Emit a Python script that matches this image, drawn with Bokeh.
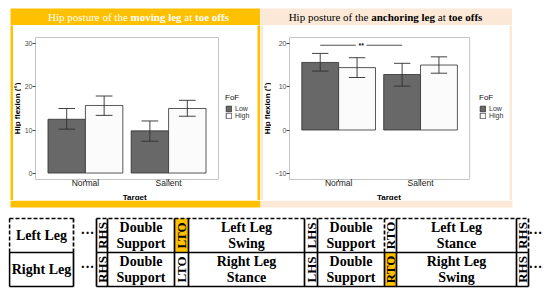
import numpy as np
from bokeh.plotting import figure
from bokeh.models import Range1d, FixedTicker, Legend, LegendItem, Spacer
from bokeh.layouts import row, column
from bokeh.embed import file_html
from bokeh.resources import INLINE
from bokeh.core.properties import value

# ---------------- data ----------------
targets = ["Normal", "Salient"]
fof_levels = ["Low", "High"]

moving_low_mean = [12.5, 9.8]
moving_low_lower = [10.2, 7.4]
moving_low_upper = [15.0, 12.1]
moving_high_mean = [15.7, 15.0]
moving_high_lower = [13.4, 13.2]
moving_high_upper = [17.9, 16.9]
moving_yticks = [0, 10, 20, 30]

anchor_low_mean = [15.7, 12.9]
anchor_low_lower = [13.7, 10.2]
anchor_low_upper = [17.8, 15.5]
anchor_high_mean = [14.5, 15.1]
anchor_high_lower = [12.2, 13.2]
anchor_high_upper = [16.8, 17.0]
anchor_yticks = [-10, 0, 10, 20]

anchor_sig_from = "Normal"
anchor_sig_to = "Salient"
anchor_sig_y = 19.7
anchor_sig_label = "**"

moving_title = [("Hip posture of the ", False), ("moving leg", True), (" at ", False), ("toe offs", True)]
anchor_title = [("Hip posture of the ", False), ("anchoring leg", True), (" at ", False), ("toe offs", True)]

x_title = "Target"
y_title = "Hip flexion (°)"
legend_title = "FoF"

leg_names = ["Left Leg", "Right Leg"]
left_row_cells = ["RHS", "Double|Support", "LTO", "Left Leg|Swing", "LHS",
                  "Double|Support", "RTO", "Left Leg|Stance", "RHS"]
right_row_cells = ["RHS", "Double|Support", "LTO", "Right Leg|Stance", "LHS",
                   "Double|Support", "RTO", "Right Leg|Swing", "RHS"]
left_row_highlight = "LTO"
right_row_highlight = "RTO"

# ---------------- style / layout ----------------
ORANGE = "#FFC000"
PEACH = "#FCE8D6"
SANS = "Liberation Sans"
SERIF = "Liberation Serif"
BORDER_GRAY = "#C4C4C4"
LOW_FILL = "#686868"
HIGH_FILL = "#FBFBFB"
BAR_LINE = "#2E2E2E"
HALF_DODGE = 0.225
BAR_W = 0.45
CAP = 0.1
MID_H = 175      # height of the white area under the title bar
PLOT_H = 165     # plot figure height (rest is the x-title strip)
YLAB_W = 8       # y-title strip width

REG_W = {' ': .25, 'H': .722, 'i': .278, 'p': .5, 'o': .5, 's': .389, 't': .278,
         'u': .5, 'r': .333, 'e': .444, 'f': .333, 'h': .5, 'a': .444}
BOLD_W = {' ': .25, 'm': .833, 'o': .5, 'v': .5, 'i': .278, 'n': .556, 'g': .5,
          'l': .278, 'e': .444, 't': .333, 'f': .333, 's': .389, 'a': .5,
          'c': .444, 'h': .556, 'r': .444}


def serif_width(text, bold):
    table = BOLD_W if bold else REG_W
    return sum(table.get(c, 0.5) for c in text)


def plain(f, color):
    f.xaxis.visible = False
    f.yaxis.visible = False
    f.grid.visible = False
    f.background_fill_color = color
    f.border_fill_color = color
    f.outline_line_color = None
    return f


def canvas(w, h, color):
    f = figure(width=w, height=h, x_range=(0, w), y_range=(0, h), min_border=0,
               output_backend="svg", toolbar_location=None)
    return plain(f, color)


def title_fig(w, segs, bg, fg, shift=0):
    h = 17
    f = canvas(w, h, bg)
    fs = 11
    total = sum(serif_width(t, b) for t, b in segs) * fs
    x = (w - total) / 2 + shift
    for t, b in segs:
        lead = t[:len(t) - len(t.lstrip())]
        core = t.strip()
        xs = x + serif_width(lead, b) * fs
        f.text(x=[xs], y=[h / 2], text=[core], text_font=value(SERIF),
               text_font_size=f"{fs}px", text_font_style="bold" if b else "normal",
               text_color=fg, text_align="left", text_baseline="middle")
        x += serif_width(t, b) * fs
    return f


def bar_fig(W, left_border, panel_right, low, high, yticks, sig=None):
    H = PLOT_H
    top_border = 11
    bottom_border = H - top_border - 144
    n = len(targets)
    lo, hi = min(yticks), max(yticks)
    pad = 0.05 * (hi - lo)
    frame_h = H - top_border - bottom_border
    ky = (frame_h - 1) / (hi - lo + 2 * pad)
    kx = (panel_right - left_border) / (n + 0.2)
    x0 = 0.4
    x1 = n + 0.6
    x_end = x1 + (W - panel_right) / kx
    p = figure(width=W, height=H, output_backend="svg", toolbar_location=None,
               x_range=Range1d(x0, x_end), y_range=Range1d(lo - pad, hi + pad + 1 / ky),
               min_border_left=left_border, min_border_right=0,
               min_border_top=top_border, min_border_bottom=bottom_border)
    p.grid.visible = False
    p.outline_line_color = None
    p.background_fill_color = "white"
    p.border_fill_color = "white"

    pos = np.arange(1, n + 1, dtype=float)
    p.xaxis.ticker = FixedTicker(ticks=list(pos))
    p.xaxis.major_label_overrides = {float(i + 1): t for i, t in enumerate(targets)}
    p.yaxis.ticker = FixedTicker(ticks=yticks)
    p.xaxis.bounds = (x0, x1)
    p.yaxis.bounds = (lo - pad, hi + pad)
    for ax in (p.xaxis[0], p.yaxis[0]):
        ax.axis_line_color = BORDER_GRAY
        ax.axis_line_width = 1
        ax.major_tick_line_color = "#444444"
        ax.major_tick_out = 3
        ax.major_tick_in = 0
        ax.minor_tick_line_color = None
        ax.major_label_text_font = SANS
    p.xaxis.major_tick_out = 2
    p.xaxis.major_label_text_font_size = "8.5px"
    p.xaxis.major_label_text_color = "#1A1A1A"
    p.xaxis.major_label_standoff = -4
    p.yaxis.major_label_text_font_size = "7px"
    p.yaxis.major_label_text_color = "#4D4D4D"
    p.yaxis.major_label_standoff = 0

    # panel top and right border
    p.segment(x0=[x0, x1], y0=[hi + pad, lo - pad], x1=[x1, x1], y1=[hi + pad, hi + pad],
              line_color=BORDER_GRAY, line_width=1)

    rends = []
    for (mean, lower, upper), off, fill in ((low, -HALF_DODGE, LOW_FILL), (high, HALF_DODGE, HIGH_FILL)):
        xs = pos + off
        r = p.vbar(x=xs, top=mean, bottom=0, width=BAR_W, fill_color=fill,
                   line_color=BAR_LINE, line_width=0.8)
        rends.append(r)
        p.segment(x0=xs, y0=lower, x1=xs, y1=upper, line_color=BAR_LINE, line_width=0.9)
        p.segment(x0=xs - CAP, y0=upper, x1=xs + CAP, y1=upper, line_color=BAR_LINE, line_width=0.9)
        p.segment(x0=xs - CAP, y0=lower, x1=xs + CAP, y1=lower, line_color=BAR_LINE, line_width=0.9)

    if sig is not None:
        a, b, yv, lab = sig
        xa = targets.index(a) + 1 - HALF_DODGE
        xb = targets.index(b) + 1 - HALF_DODGE
        mid = (xa + xb) / 2
        gap = 0.065
        p.segment(x0=[xa, mid + gap], y0=[yv, yv], x1=[mid - gap, xb], y1=[yv, yv],
                  line_color="#222222", line_width=0.8)
        p.text(x=[mid], y=[yv], text=[lab], text_font=value(SANS), text_font_size="7px",
               text_font_style="bold", text_align="center", text_baseline="middle",
               text_color="#222222")

    legend = Legend(items=[LegendItem(label=fof_levels[0], renderers=[rends[0]]),
                           LegendItem(label=fof_levels[1], renderers=[rends[1]])],
                    title=legend_title, location=(190, 60),
                    glyph_width=7, glyph_height=7, label_height=7, spacing=0,
                    padding=0, margin=0, label_standoff=3, title_standoff=3,
                    border_line_color=None, background_fill_alpha=0,
                    label_text_font=SANS, label_text_font_size="7px",
                    label_text_color="#333333",
                    title_text_font=SANS, title_text_font_size="8px",
                    title_text_font_style="normal", title_text_color="#111111")
    p.add_layout(legend)
    return p


def panel(w, segs, frame_color, title_color, low, high, yticks, left_border, panel_right,
          sig=None, shift=0):
    t = title_fig(w, segs, frame_color, title_color, shift)
    pw = w - 6 - YLAB_W
    pf = bar_fig(pw, left_border, panel_right, low, high, yticks, sig)
    # y title strip
    yl = canvas(YLAB_W, MID_H, "white")
    panel_mid_y = MID_H - (11 + 72)
    yl.text(x=[YLAB_W / 2], y=[panel_mid_y], text=[y_title], angle=np.pi / 2,
            text_font=value(SANS), text_font_size="8px", text_font_style="bold",
            text_align="center", text_baseline="middle", text_color="black")
    # x title strip
    xh = MID_H - PLOT_H
    xl = canvas(pw, xh, "white")
    xl.text(x=[(left_border + panel_right) / 2], y=[xh / 2 + 0.5], text=[x_title],
            text_font=value(SANS), text_font_size="8px", text_font_style="bold",
            text_align="center", text_baseline="middle", text_color="black")
    mid = row(canvas(3, MID_H, frame_color), yl, column(pf, xl), canvas(3, MID_H, frame_color))
    return column(t, mid)


left_panel = panel(250, moving_title, ORANGE, "white",
                   (moving_low_mean, moving_low_lower, moving_low_upper),
                   (moving_high_mean, moving_high_lower, moving_high_upper),
                   moving_yticks, left_border=14, panel_right=197, shift=3)
right_panel = panel(252, anchor_title, PEACH, "black",
                    (anchor_low_mean, anchor_low_lower, anchor_low_upper),
                    (anchor_high_mean, anchor_high_lower, anchor_high_upper),
                    anchor_yticks, left_border=17, panel_right=198, shift=-1,
                    sig=(anchor_sig_from, anchor_sig_to, anchor_sig_y, anchor_sig_label))

# ---------------- gait diagram (incl. bottom bands of the panels) ----------------
D_W, D_H, D_TOP, D_LEFT = 534, 90, 200, 8
BAND = [(10, 260, ORANGE), (260, 512, PEACH)]
BAND_Y = (200, 207)
ROW_Y = [218, 252, 286]
NAME_X = (9, 73)
CELL_EDGES = [96, 107, 174, 188, 304, 317, 384, 396, 516, 528]
DOTS_X = [87, 535]
TOP_DASHED_EDGES = [384, 528]
LW = 1.7


def Y(py):
    return D_TOP + D_H - py


d = figure(width=D_W, height=D_H, x_range=(D_LEFT, D_LEFT + D_W), y_range=(0, D_H),
           min_border=0, output_backend="svg", toolbar_location=None)
plain(d, "white")

d.quad(left=[b[0] for b in BAND], right=[b[1] for b in BAND],
       top=[Y(BAND_Y[0])] * 2, bottom=[Y(BAND_Y[1])] * 2,
       fill_color=[b[2] for b in BAND], line_color=None)

solid = [[], [], [], []]
dashed = [[], [], [], []]


def seg(lst, xa, ya, xb, yb):
    lst[0].append(xa); lst[1].append(Y(ya)); lst[2].append(xb); lst[3].append(Y(yb))


for r, (cells, hl) in enumerate(((left_row_cells, left_row_highlight),
                                 (right_row_cells, right_row_highlight))):
    for i, c in enumerate(cells):
        if c == hl:
            d.quad(left=[CELL_EDGES[i]], right=[CELL_EDGES[i + 1]],
                   top=[Y(ROW_Y[r])], bottom=[Y(ROW_Y[r + 1])],
                   fill_color=ORANGE, line_color=None)

seg(dashed, NAME_X[0], ROW_Y[0], NAME_X[1], ROW_Y[0])
seg(dashed, NAME_X[0], ROW_Y[0], NAME_X[0], ROW_Y[1])
seg(dashed, NAME_X[1], ROW_Y[0], NAME_X[1], ROW_Y[1])
seg(solid, NAME_X[0], ROW_Y[1], NAME_X[1], ROW_Y[1])
seg(solid, NAME_X[0], ROW_Y[2], NAME_X[1], ROW_Y[2])
seg(solid, NAME_X[0], ROW_Y[1], NAME_X[0], ROW_Y[2])
seg(solid, NAME_X[1], ROW_Y[1], NAME_X[1], ROW_Y[2])
seg(dashed, CELL_EDGES[0], ROW_Y[0], CELL_EDGES[-1], ROW_Y[0])
seg(solid, CELL_EDGES[0], ROW_Y[1], CELL_EDGES[-1], ROW_Y[1])
seg(solid, CELL_EDGES[0], ROW_Y[2], CELL_EDGES[-1], ROW_Y[2])
for e in CELL_EDGES:
    seg(dashed if e in TOP_DASHED_EDGES else solid, e, ROW_Y[0], e, ROW_Y[1])
    seg(solid, e, ROW_Y[1], e, ROW_Y[2])

d.segment(x0=solid[0], y0=solid[1], x1=solid[2], y1=solid[3], line_color="black", line_width=LW)
d.segment(x0=dashed[0], y0=dashed[1], x1=dashed[2], y1=dashed[3], line_color="black",
          line_width=LW, line_dash="4 2")

tx, ty, tt = [], [], []
vx, vy, vt = [], [], []
for r, cells in enumerate((left_row_cells, right_row_cells)):
    cy = (ROW_Y[r] + ROW_Y[r + 1]) / 2
    tx.append((NAME_X[0] + NAME_X[1]) / 2); ty.append(Y(cy)); tt.append(leg_names[r])
    for dx in DOTS_X:
        tx.append(dx); ty.append(Y(cy - 2)); tt.append("···")
    for i, c in enumerate(cells):
        cx = (CELL_EDGES[i] + CELL_EDGES[i + 1]) / 2
        if "|" in c:
            a, b = c.split("|")
            tx += [cx, cx]; ty += [Y(cy - 8), Y(cy + 8)]; tt += [a, b]
        else:
            vx.append(cx); vy.append(Y(cy)); vt.append(c)

d.text(x=tx, y=ty, text=tt, text_font=value(SERIF), text_font_size="14px",
       text_font_style="bold", text_align="center", text_baseline="middle", text_color="black")
d.text(x=vx, y=vy, text=vt, text_font=value(SERIF), text_font_size="13px", angle=np.pi / 2,
       text_font_style="bold", text_align="center", text_baseline="middle", text_color="black")

top = row(Spacer(width=10, height=192), left_panel, right_panel)
bottom = row(Spacer(width=8, height=D_H), d)
layout = column(Spacer(width=542, height=8), top, bottom)

open("out.html", "w").write(file_html(layout, INLINE))
